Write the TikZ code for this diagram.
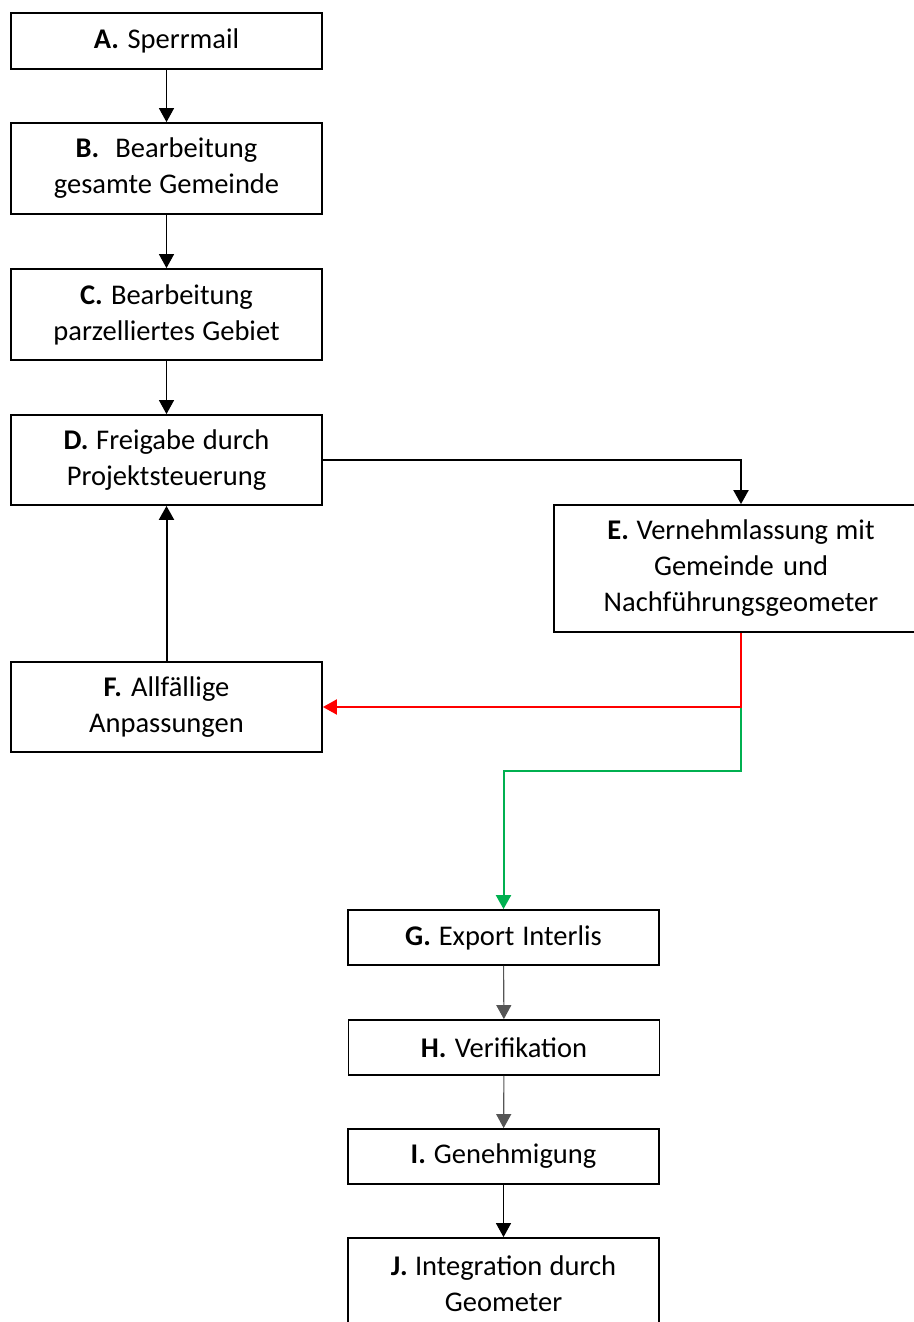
\documentclass[tikz,border=0pt]{standalone}
\usepackage{fontspec}
\setmainfont{Carlito}
\usetikzlibrary{arrows.meta}
\definecolor{ered}{HTML}{FF0000}
\definecolor{egreen}{HTML}{00B050}
\definecolor{egray}{HTML}{555555}
\begin{document}
\begin{tikzpicture}[x=1pt,y=1pt,
  box/.style={draw, line width=1.8pt, minimum width=311pt, text width=300pt, align=center, inner sep=0pt, font=\fontsize{28.5}{36}\selectfont,
    execute at begin node={\spaceskip=6pt plus 2pt minus 1pt\relax}},
  tip/.style={-{Triangle[length=14pt,width=15pt]}},
  conn/.style={tip, line width=1.3pt, black},
  thick conn/.style={tip, line width=2pt, black},
  red conn/.style={tip, line width=2pt, ered},
  green conn/.style={tip, line width=2pt, egreen},
  gray conn/.style={tip, line width=1.1pt, egray}]
\useasboundingbox (0,0) rectangle (913,-1322);
\node[box, minimum height=56pt] (A) at (166.5,-41) {\textbf{A.} Sperrmail};
\node[box, minimum height=91pt] (B) at (166.5,-168.5) {\textbf{B.}\ \ Bearbeitung\\gesamte Gemeinde};
\node[box, minimum height=91pt] (C) at (166.5,-314.5) {\textbf{C.} Bearbeitung\\parzelliertes Gebiet};
\node[box, minimum height=90pt] (D) at (166.5,-460) {\textbf{D.} Freigabe durch\\Projektsteuerung};
\node[box, minimum width=374pt, text width=360pt, minimum height=127pt] (E) at (741,-568.5) {\textbf{E.} Vernehmlassung mit\\Gemeinde und\\Nachführungsgeometer};
\node[box, minimum height=90pt] (F) at (166.5,-707) {\textbf{F.} Allfällige\\Anpassungen};
\node[box, minimum height=55pt] (G) at (503.5,-937.5) {\textbf{G.} Export Interlis};
\node[box, minimum height=55pt] (H) at (504,-1047.5) {\textbf{H.} Verifikation};
\node[box, minimum height=55pt] (I) at (503.5,-1156.5) {\textbf{I.} Genehmigung};
\node[box, minimum height=92pt] (J) at (503.5,-1284) {\textbf{J.} Integration durch\\Geometer};
\coordinate (split) at (E.south |- F.east);
\coordinate (turn) at (741,-771);
\draw[conn] (A) -- (B);
\draw[conn] (B) -- (C);
\draw[conn] (C) -- (D);
\draw[thick conn] (D.east) -| (E.north);
\draw[thick conn] (F) -- (D);
\draw[green conn] (split) -- (turn) -| (G.north);
\draw[red conn] (E.south) |- (F.east);
\draw[gray conn] (G) -- (H);
\draw[gray conn] (H) -- (I);
\draw[conn] (I) -- (J);
\end{tikzpicture}
\end{document}
